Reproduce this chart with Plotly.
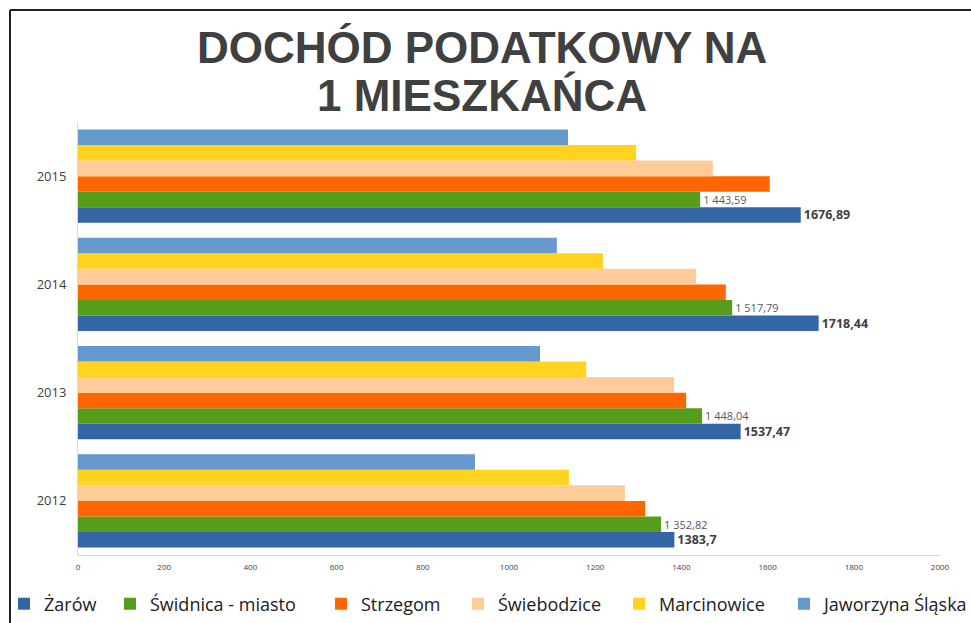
import plotly.graph_objects as go

years = ["2012", "2013", "2014", "2015"]
series_names = ["Żarów", "Świdnica - miasto", "Strzegom", "Świebodzice", "Marcinowice", "Jaworzyna Śląska"]
zarow = [1383.7, 1537.47, 1718.44, 1676.89]
swidnica = [1352.82, 1448.04, 1517.79, 1443.59]
strzegom = [1316, 1411, 1503, 1605]
swiebodzice = [1269, 1383, 1434, 1473]
marcinowice = [1139, 1179, 1218, 1295]
jaworzyna = [921, 1072, 1111, 1137]
zarow_labels = ["1383,7", "1537,47", "1718,44", "1676,89"]
swidnica_labels = ["1 352,82", "1 448,04", "1 517,79", "1 443,59"]
x_ticks = [0, 200, 400, 600, 800, 1000, 1200, 1400, 1600, 1800, 2000]

colors = ["#3465a4", "#579d1c", "#ff6600", "#ffcc99", "#ffd320", "#6699cc"]
values = [zarow, swidnica, strzegom, swiebodzice, marcinowice, jaworzyna]

# left edge (px) of each legend entry along the bottom row
legend_x_px = [4, 110, 321, 458, 619, 784]

fig = go.Figure()
legend_layouts = {}
for i, (name, vals) in enumerate(zip(series_names, values)):
    kw = {}
    if i == 0:
        kw = dict(text=zarow_labels, textposition="outside", constraintext="none",
                  textfont=dict(family="Open Sans", size=12.5, color="#404040", weight="bold"))
    elif i == 1:
        kw = dict(text=swidnica_labels, textposition="outside", constraintext="none",
                  textfont=dict(family="Open Sans", size=11, color="#595959"))
    lg = "legend" if i == 0 else f"legend{i + 1}"
    fig.add_trace(go.Bar(
        y=years, x=vals, name=name, orientation="h", legend=lg,
        marker=dict(color=colors[i], line=dict(width=0)),
        cliponaxis=False, hoverinfo="x+name", **kw))
    legend_layouts[lg] = dict(
        orientation="h", xref="container", yref="container",
        x=legend_x_px[i] / 971, xanchor="left", y=1 - 604 / 623, yanchor="middle",
        font=dict(family="Open Sans", size=18, color="#202020"),
        bgcolor="rgba(0,0,0,0)", itemwidth=30)

fig.update_layout(
    width=971, height=623,
    margin=dict(l=78, r=31, t=122, b=68, autoexpand=False),
    paper_bgcolor="white", plot_bgcolor="white",
    barmode="group", bargap=0.14, bargroupgap=0,
    font=dict(family="Open Sans", color="#404040"),
    showlegend=True,
    xaxis=dict(range=[0, 2000], tickvals=x_ticks, ticktext=[str(t) for t in x_ticks],
               showgrid=False, zeroline=False, showline=True, linecolor="#d9d9d9", linewidth=1,
               ticks="", tickfont=dict(size=8, color="#404040"), ticklabelstandoff=4,
               automargin=False, fixedrange=True),
    yaxis=dict(type="category", categoryorder="array", categoryarray=years,
               showgrid=False, zeroline=False, showline=True, linecolor="#d9d9d9", linewidth=1,
               ticks="", tickfont=dict(size=13, color="#404040"), ticklabelstandoff=8,
               automargin=False),
    annotations=[
        dict(text="<b>DOCHÓD PODATKOWY NA</b>", xref="paper", yref="paper",
             x=(482 - 78) / 862, y=1 + (122 - 47) / 433, xanchor="center", yanchor="middle",
             showarrow=False, font=dict(family="Liberation Sans", size=44, color="#404040")),
        dict(text="<b>1 MIESZKAŃCA</b>", xref="paper", yref="paper",
             x=(482 - 78) / 862, y=1 + (122 - 95) / 433, xanchor="center", yanchor="middle",
             showarrow=False, font=dict(family="Liberation Sans", size=44, color="#404040")),
    ],
    shapes=[
        dict(type="line", xref="paper", yref="paper", x0=(10 - 78) / 862, x1=(975 - 78) / 862,
             y0=1 + (122 - 10) / 433, y1=1 + (122 - 10) / 433, line=dict(color="#222222", width=2)),
        dict(type="line", xref="paper", yref="paper", x0=(10 - 78) / 862, x1=(10 - 78) / 862,
             y0=1 + (122 - 10) / 433, y1=-(630 - 555) / 433, line=dict(color="#222222", width=2)),
    ],
    **legend_layouts,
)

fig.write_html("out.html", config={"displayModeBar": False},
               post_script="document.body.style.margin='0';document.body.style.overflow='hidden';")
